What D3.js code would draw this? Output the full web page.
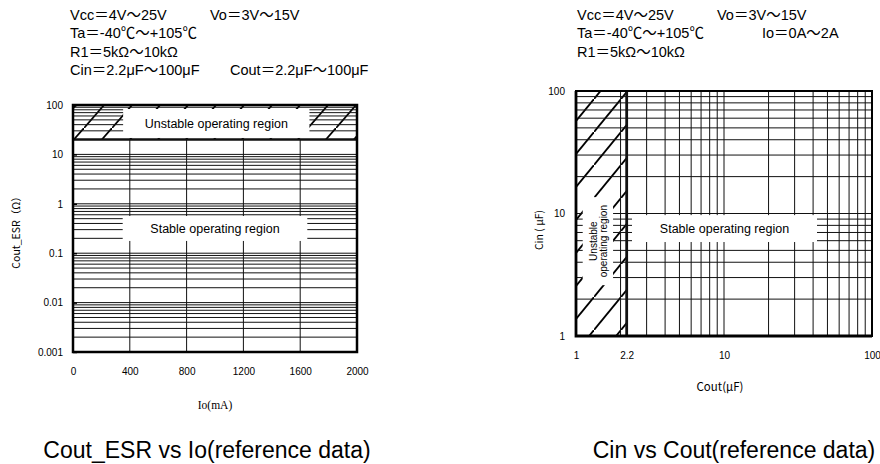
<!DOCTYPE html>
<html>
<head>
<meta charset="utf-8">
<script src="https://cdn.jsdelivr.net/npm/d3@7"></script>
<style>
body { margin: 0; background: #fff; }
text { font-family: "Liberation Sans", Arial, "Noto Sans CJK JP", sans-serif; fill: #000; }
</style>
</head>
<body>
<div id="chart"></div>
<script>
//////////////////////////////////////////////////////////////////////////////
// Data

// left chart: Cout_ESR vs Io
var esrTicks = [0.001, 0.01, 0.1, 1, 10, 100];
var ioTicks = [0, 400, 800, 1200, 1600, 2000];
var esrLimit = 20;                 // above this ESR the regulator is unstable
var leftStableBox = [350, 1650, 0.566, 0.177];   // io0, io1, esrTop, esrBottom
var leftUnstableBox = [353, 1665, 83, 21.5];

// right chart: Cin vs Cout
var cinTicks = [1, 10, 100];
var coutTicks = [1, 2.2, 10, 100];
var coutLimit = 2.2;               // below this Cout the regulator is unstable
var rightStableBox = [2.39, 42.5, 9.7, 5.85];    // cout0, cout1, cinTop, cinBottom
var rightUnstableBox = [1.11, 1.78, 13.6, 2.6];

var leftNotes = [["Vcc＝4V～25V", "Vo＝3V～15V"],
                 ["Ta＝-40℃～+105℃"],
                 ["R1＝5kΩ～10kΩ"],
                 ["Cin＝2.2μF～100μF", "Cout＝2.2μF～100μF"]];
var rightNotes = [["Vcc＝4V～25V", "Vo＝3V～15V"],
                  ["Ta＝-40℃～+105℃", "Io＝0A～2A"],
                  ["R1＝5kΩ～10kΩ"]];
var captions = ["Cout_ESR vs Io(reference data)", "Cin vs Cout(reference data)"];

//////////////////////////////////////////////////////////////////////////////

var svg = d3.select("#chart").append("svg")
    .attr("width", 880)
    .attr("height", 464);

var defs = svg.append("defs");

function hatch(id, w, h)
{
    defs.append("pattern")
        .attr("id", id)
        .attr("patternUnits", "userSpaceOnUse")
        .attr("width", w)
        .attr("height", h)
        .append("path")
        .attr("d", "M" + (-1) + "," + (h + h / w) + " L" + (w + 1) + "," + (-h / w))
        .attr("stroke", "#000")
        .attr("stroke-width", 1.8);
}
hatch("hatchL", 28, 32);
hatch("hatchR", 27, 33);

function notes(lines, x0, cols, y0)
{
    var g = svg.append("g").style("font-size", "14.5px");
    lines.forEach(function(line, i) {
        line.forEach(function(t, j) {
            g.append("text")
                .attr("x", j == 0 ? x0 : cols[i])
                .attr("y", y0 + i * 18.3)
                .text(t);
        });
    });
}

function hLines(g, ys, yScale, x0, x1, w)
{
    g.selectAll(null).data(ys).enter().append("line")
        .attr("x1", x0).attr("x2", x1)
        .attr("y1", function(d) { return yScale(d); })
        .attr("y2", function(d) { return yScale(d); })
        .attr("stroke", "#111")
        .attr("stroke-width", w);
}

function vLines(g, xs, xScale, y0, y1, w)
{
    g.selectAll(null).data(xs).enter().append("line")
        .attr("y1", y0).attr("y2", y1)
        .attr("x1", function(d) { return xScale(d); })
        .attr("x2", function(d) { return xScale(d); })
        .attr("stroke", "#111")
        .attr("stroke-width", w);
}

function whiteBox(g, b, xS, yS)
{
    g.append("rect")
        .attr("x", xS(b[0]))
        .attr("y", yS(b[2]))
        .attr("width", xS(b[1]) - xS(b[0]))
        .attr("height", yS(b[3]) - yS(b[2]))
        .attr("fill", "#fff");
}

//////////////////////////////////////////////////////////////////////////////
// Left chart

var xL = d3.scaleLinear().domain([0, 2000]).range([73, 357]);
var yL = d3.scaleLog().domain([0.001, 100]).range([352, 105]);

notes(leftNotes, 70, [210, null, null, 230], 20);

var gL = svg.append("g");

gL.append("rect")
    .attr("x", xL(0)).attr("y", yL(100))
    .attr("width", xL(2000) - xL(0))
    .attr("height", yL(esrLimit) - yL(100))
    .attr("fill", "url(#hatchL)");

hLines(gL, yL.ticks(), yL, xL(0), xL(2000), 1);
vLines(gL, ioTicks.slice(1, -1), xL, yL(esrLimit), yL(0.001), 1);

whiteBox(gL, leftStableBox, xL, yL);
whiteBox(gL, leftUnstableBox, xL, yL);

hLines(gL, [esrLimit], yL, xL(0), xL(2000), 2.5);

gL.append("rect")
    .attr("x", xL(0)).attr("y", yL(100))
    .attr("width", xL(2000) - xL(0))
    .attr("height", yL(0.001) - yL(100))
    .attr("fill", "none")
    .attr("stroke", "#000")
    .attr("stroke-width", 2.5);

gL.append("text")
    .attr("x", d3.mean(leftUnstableBox.slice(0, 2).map(xL)))
    .attr("y", d3.mean(leftUnstableBox.slice(2).map(yL)))
    .attr("dy", "0.35em")
    .attr("text-anchor", "middle")
    .style("font-size", "12.5px")
    .text("Unstable operating region");

gL.append("text")
    .attr("x", d3.mean(leftStableBox.slice(0, 2).map(xL)))
    .attr("y", d3.mean(leftStableBox.slice(2).map(yL)))
    .attr("dy", "0.35em")
    .attr("text-anchor", "middle")
    .style("font-size", "12.5px")
    .text("Stable operating region");

var axL = svg.append("g")
    .attr("transform", "translate(" + xL(0) + ",0)")
    .call(d3.axisLeft(yL).tickValues(esrTicks).tickFormat(d3.format("~g"))
          .tickSizeInner(-4).tickSizeOuter(0).tickPadding(10));
var axB = svg.append("g")
    .attr("transform", "translate(0," + yL(0.001) + ")")
    .call(d3.axisBottom(xL).tickValues(ioTicks).tickFormat(d3.format("d"))
          .tickSize(0).tickPadding(16));

[axL, axB].forEach(function(a) {
    a.select(".domain").remove();
    a.selectAll("text").style("font-family", "'Liberation Sans', Arial, sans-serif")
        .style("font-size", "10px").attr("fill", "#000");
    a.selectAll("line").attr("stroke", "#000").attr("stroke-width", 1.5);
});

svg.append("text")
    .attr("transform", "translate(20,230) rotate(-90)")
    .attr("text-anchor", "middle")
    .style("font-size", "10.5px")
    .style("font-family", "'Noto Sans CJK JP', sans-serif")
    .text("Cout_ESR（Ω）");

svg.append("text")
    .attr("x", 215).attr("y", 409)
    .attr("text-anchor", "middle")
    .style("font-size", "11.5px")
    .style("font-family", "'Liberation Serif', serif")
    .text("Io(mA)");

//////////////////////////////////////////////////////////////////////////////
// Right chart

var xR = d3.scaleLog().domain([1, 100]).range([576, 872]);
var yR = d3.scaleLog().domain([1, 100]).range([336, 91]);

notes(rightNotes, 577, [717, 762, null], 20);

var gR = svg.append("g");

gR.append("rect")
    .attr("x", xR(1)).attr("y", yR(100))
    .attr("width", xR(coutLimit) - xR(1))
    .attr("height", yR(1) - yR(100))
    .attr("fill", "url(#hatchR)");

hLines(gR, yR.ticks(), yR, xR(1), xR(100), 1);
vLines(gR, xR.ticks(), xR, yR(100), yR(1), 1);

whiteBox(gR, rightStableBox, xR, yR);
whiteBox(gR, rightUnstableBox, xR, yR);

vLines(gR, [coutLimit], xR, yR(100), yR(1), 2.8);

gR.append("rect")
    .attr("x", xR(1)).attr("y", yR(100))
    .attr("width", xR(100) - xR(1))
    .attr("height", yR(1) - yR(100))
    .attr("fill", "none")
    .attr("stroke", "#000")
    .attr("stroke-width", 2);
gR.append("path")
    .attr("d", "M" + xR(1) + "," + yR(100) + "V" + yR(1) + "H" + xR(100))
    .attr("fill", "none")
    .attr("stroke", "#000")
    .attr("stroke-width", 2.8);

gR.append("text")
    .attr("x", d3.mean(rightStableBox.slice(0, 2).map(xR)))
    .attr("y", d3.mean(rightStableBox.slice(2).map(yR)))
    .attr("dy", "0.35em")
    .attr("text-anchor", "middle")
    .style("font-size", "12.5px")
    .text("Stable operating region");

var ub = gR.append("text")
    .attr("transform", "translate(" + d3.mean(rightUnstableBox.slice(0, 2).map(xR)) + ","
          + d3.mean(rightUnstableBox.slice(2).map(yR)) + ") rotate(-90)")
    .attr("text-anchor", "middle")
    .style("font-size", "10px");
ub.append("tspan").attr("x", 0).attr("y", -1).text("Unstable");
ub.append("tspan").attr("x", 0).attr("y", 9).text("operating region");

var axRL = svg.append("g")
    .attr("transform", "translate(" + xR(1) + ",0)")
    .call(d3.axisLeft(yR).tickValues(cinTicks).tickFormat(d3.format("~g"))
          .tickSize(0).tickPadding(11));
var axRB = svg.append("g")
    .attr("transform", "translate(0," + yR(1) + ")")
    .call(d3.axisBottom(xR).tickValues(coutTicks).tickFormat(d3.format("~g"))
          .tickSize(0).tickPadding(16));

[axRL, axRB].forEach(function(a) {
    a.select(".domain").remove();
    a.selectAll("text").style("font-family", "'Liberation Sans', Arial, sans-serif")
        .style("font-size", "10px").attr("fill", "#000");
});

svg.append("text")
    .attr("transform", "translate(543,230) rotate(-90)")
    .attr("text-anchor", "middle")
    .style("font-size", "10.5px")
    .style("font-family", "'Noto Sans CJK JP', sans-serif")
    .text("Cin ( μF)");

svg.append("text")
    .attr("x", 720).attr("y", 391)
    .attr("text-anchor", "middle")
    .style("font-size", "11.5px")
    .style("font-family", "'Noto Sans CJK JP', sans-serif")
    .text("Cout(μF)");

//////////////////////////////////////////////////////////////////////////////
// Captions

svg.selectAll(".caption").data(captions).enter().append("text")
    .attr("class", "caption")
    .attr("x", function(d, i) { return i == 0 ? 207 : 734; })
    .attr("y", 458)
    .attr("text-anchor", "middle")
    .style("font-size", "23px")
    .text(function(d) { return d; });
</script>
</body>
</html>
